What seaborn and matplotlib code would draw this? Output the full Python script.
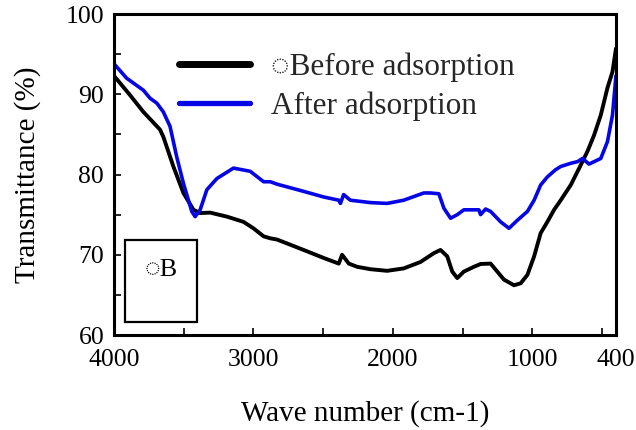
import matplotlib
matplotlib.use("Agg")
import matplotlib.pyplot as plt
from matplotlib.patches import Rectangle
import seaborn as sns

# FTIR spectra: wave number (cm-1) and transmittance (%)
wn_before = [4000, 3885, 3789, 3670, 3646, 3574, 3502, 3430, 3382, 3310, 3190, 3071,
             3000, 2927, 2879, 2831, 2640, 2496, 2388, 2364, 2316, 2256, 2161, 2041,
             1922, 1802, 1706, 1658, 1610, 1574, 1538, 1491, 1419, 1371, 1299, 1251,
             1203, 1131, 1083, 1035, 987, 940, 892, 844, 796, 724, 652, 604, 557,
             509, 461, 425, 400]
t_before = [92.3, 89.9, 87.8, 85.6, 84.7, 81.0, 77.7, 75.6, 75.2, 75.25, 74.75, 74.1,
            73.3, 72.3, 72.05, 71.9, 70.6, 69.6, 68.9, 70.0, 68.9, 68.5, 68.2, 68.0,
            68.3, 69.1, 70.2, 70.6, 69.8, 67.9, 67.1, 67.9, 68.5, 68.85, 68.9, 67.9,
            66.9, 66.2, 66.45, 67.5, 69.8, 72.7, 74.1, 75.6, 76.8, 78.7, 81.2, 82.9,
            84.9, 87.4, 90.8, 92.8, 95.7]

wn_after = [4000, 3909, 3789, 3741, 3693, 3646, 3598, 3550, 3502, 3442, 3418, 3382,
            3334, 3262, 3143, 3023, 2927, 2879, 2831, 2640, 2496, 2388, 2376, 2353,
            2305, 2161, 2041, 1922, 1778, 1730, 1670, 1634, 1586, 1538, 1491, 1419,
            1383, 1371, 1335, 1299, 1227, 1167, 1107, 1035, 987, 940, 892, 833, 796,
            724, 676, 640, 593, 509, 461, 425, 400]
t_after = [93.8, 92.0, 90.5, 89.5, 88.9, 87.8, 86.0, 82.2, 78.9, 75.4, 74.75, 75.6,
           78.1, 79.5, 80.8, 80.4, 79.1, 79.1, 78.8, 77.9, 77.2, 76.8, 76.4, 77.5,
           76.8, 76.5, 76.4, 76.8, 77.7, 77.7, 77.6, 75.8, 74.55, 75.0, 75.6, 75.6,
           75.6, 75.0, 75.7, 75.4, 74.1, 73.3, 74.3, 75.4, 76.8, 78.7, 79.7, 80.6,
           81.0, 81.4, 81.6, 82.0, 81.3, 82.0, 84.1, 87.4, 92.3]

labels = ["\u25ccBefore adsorption", "After adsorption"]
x_ticks = [4000, 3000, 2000, 1000, 400]
x_minor = [3500, 2500, 1500, 500]
y_ticks = [60, 70, 80, 90, 100]
y_minor = [65, 75, 85, 95]

sns.set_style("ticks")
plt.rcParams["font.family"] = ["Liberation Serif", "DejaVu Sans"]

fig = plt.figure(figsize=(6.36, 4.30), dpi=100)
ax = fig.add_axes([0.1792, 0.2209, 0.7893, 0.7465])

sns.lineplot(x=wn_before, y=t_before, ax=ax, color="black", linewidth=2.8,
             sort=False, estimator=None, label=labels[0])
sns.lineplot(x=wn_after, y=t_after, ax=ax, color="#0505e6", linewidth=2.6,
             sort=False, estimator=None, label=labels[1])

ax.set_xlim(4000, 400)
ax.set_ylim(60, 100)
ax.set_xticks(x_ticks)
ax.set_xticklabels([str(v) for v in x_ticks])
ax.set_xticks(x_minor, minor=True)
ax.set_yticks(y_ticks)
ax.set_yticklabels([str(v) for v in y_ticks])
ax.set_yticks(y_minor, minor=True)
ax.tick_params(axis="both", which="both", direction="in", length=5, width=1.2,
               color="black", labelsize=18.5, labelcolor="black")
ax.tick_params(axis="x", which="major", pad=10)
ax.tick_params(axis="y", which="major", pad=7)

for side in ["left", "right", "top", "bottom"]:
    ax.spines[side].set_visible(True)
    ax.spines[side].set_color("black")
    ax.spines[side].set_linewidth(2.2)

ax.set_xlabel("Wave number (cm-1)", fontsize=21, labelpad=21, color="black")
ax.set_ylabel("Transmittance (%)", fontsize=21, labelpad=18, color="black")

leg = ax.legend(loc="upper left", bbox_to_anchor=(0.13, 0.88), frameon=False,
                fontsize=22.5, handlelength=2.25, handletextpad=0.7,
                labelspacing=0.3, borderpad=0, borderaxespad=0)
leg.get_lines()[0].set_linewidth(5)
leg.get_lines()[1].set_linewidth(3.8)

# small labelled panel box in the lower-left corner
ax.add_patch(Rectangle((0.022, 0.041), 0.144, 0.256, transform=ax.transAxes,
                       fill=False, edgecolor="black", linewidth=1.6))
ax.text(0.062, 0.203, "\u25ccB", transform=ax.transAxes, fontsize=19,
        va="center", ha="left", color="black")

fig.savefig("out.png", dpi=100)
